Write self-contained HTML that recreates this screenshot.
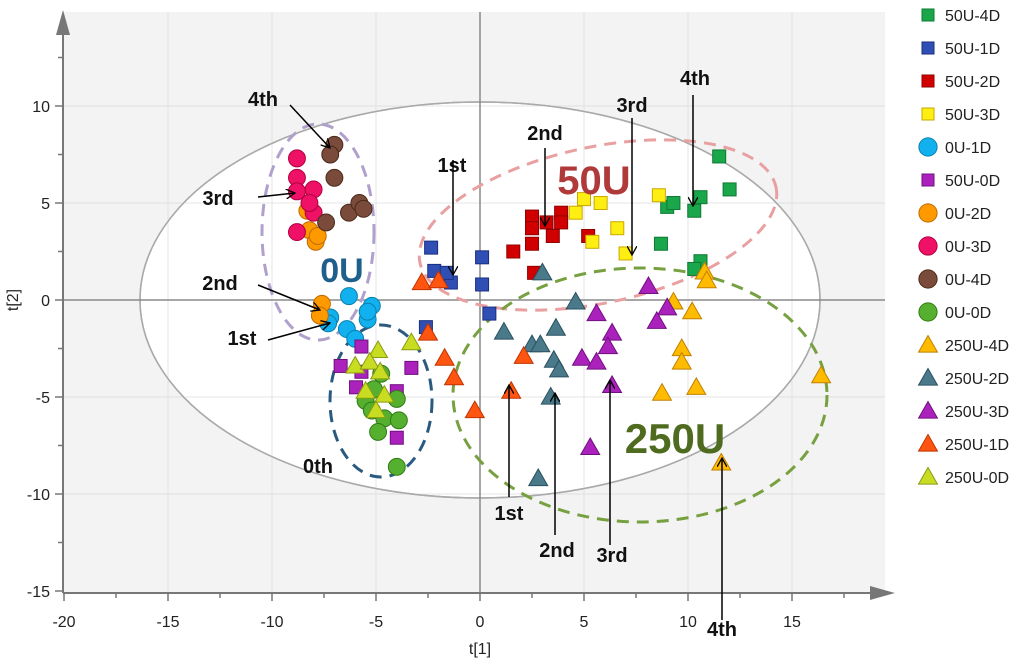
<!DOCTYPE html>
<html><head><meta charset="utf-8"><style>
body{margin:0;background:#fff;}
svg{display:block;font-family:"Liberation Sans",sans-serif;}
</style></head><body>
<svg id="chart" width="1024" height="663" viewBox="0 0 1024 663" xmlns="http://www.w3.org/2000/svg">
<defs>
<marker id="ah" markerWidth="10" markerHeight="10" refX="9" refY="5" orient="auto" markerUnits="userSpaceOnUse"><path d="M0,0 L9,5 L0,10" fill="none" stroke="#000" stroke-width="1.3"/></marker>
</defs>
<g id="bg"></g>
<g id="marks"></g>
<g id="anno"></g>
<g id="legend"></g>
</svg>
<script>
const xTicks=[-20,-15,-10,-5,0,5,10,15];
const yTicks=[-15,-10,-5,0,5,10];
const seriesNames=["50U-4D","50U-1D","50U-2D","50U-3D","0U-1D","50U-0D","0U-2D","0U-3D","0U-4D","0U-0D","250U-4D","250U-2D","250U-3D","250U-1D","250U-0D"];
const s50U4Dx=[11.5,12.0,10.6,10.3,9.0,9.3,8.7,10.6,10.3];
const s50U4Dy=[7.4,5.7,5.3,4.6,4.8,5.0,2.9,2.0,1.6];
const s50U1Dx=[-2.35,-2.2,-1.4,0.1,0.1,0.45,-2.6,-1.6];
const s50U1Dy=[2.7,1.5,0.9,2.2,0.8,-0.7,-1.4,1.4];
const s50U2Dx=[1.6,2.5,2.5,2.5,3.2,3.5,3.9,3.9,5.2,2.6];
const s50U2Dy=[2.5,4.3,3.7,2.9,4.0,3.3,4.5,4.0,3.3,1.4];
const s50U3Dx=[4.6,5.0,5.8,5.4,6.6,7.0,8.6];
const s50U3Dy=[4.5,5.2,5.0,3.0,3.7,2.4,5.4];
const s0U1Dx=[-6.3,-5.2,-5.4,-7.2,-6.4,-6.0,-7.3,-5.4];
const s0U1Dy=[0.2,-0.3,-1.0,-0.9,-1.5,-2.0,-1.2,-0.6];
const s50U0Dx=[-5.7,-6.7,-5.7,-5.96,-3.3,-4.0,-4.0];
const s50U0Dy=[-2.4,-3.4,-3.7,-4.5,-3.5,-4.7,-7.1];
const s0U2Dx=[-8.3,-8.2,-7.9,-7.8,-7.6,-7.7];
const s0U2Dy=[4.6,3.6,3.0,3.3,-0.2,-0.8];
const s0U3Dx=[-8.8,-8.8,-8.8,-8.0,-8.0,-8.8,-8.2];
const s0U3Dy=[7.3,6.3,5.6,5.7,4.5,3.5,5.0];
const s0U4Dx=[-7.0,-7.2,-7.0,-6.3,-5.8,-5.6,-7.4];
const s0U4Dy=[8.0,7.5,6.3,4.5,5.0,4.7,4.0];
const s0U0Dx=[-4.75,-5.1,-5.5,-4.0,-5.2,-4.6,-3.9,-4.9,-4.0];
const s0U0Dy=[-3.8,-4.6,-5.2,-5.1,-5.7,-6.1,-6.2,-6.8,-8.6];
const s250U4Dx=[10.8,10.9,9.3,10.2,9.7,9.7,8.75,10.4,16.4,11.6];
const s250U4Dy=[1.45,1.0,-0.1,-0.6,-2.5,-3.2,-4.8,-4.5,-3.9,-8.4];
const s250U2Dx=[3.0,4.6,1.15,2.5,2.9,3.65,3.55,3.8,3.4,2.8];
const s250U2Dy=[1.4,-0.1,-1.65,-2.3,-2.3,-1.45,-3.1,-3.6,-5.0,-9.2];
const s250U3Dx=[5.6,6.35,6.15,4.9,5.6,6.35,5.3,8.1,9.0,8.5];
const s250U3Dy=[-0.7,-1.7,-2.4,-3.0,-3.2,-4.4,-7.6,0.7,-0.4,-1.1];
const s250U1Dx=[-2.8,-2.0,-2.5,-1.7,-1.25,-0.25,2.1,1.5];
const s250U1Dy=[0.9,1.0,-1.7,-3.0,-4.0,-5.7,-2.9,-4.7];
const s250U0Dx=[-3.3,-6.0,-4.9,-5.3,-4.8,-5.5,-4.6,-5.0];
const s250U0Dy=[-2.2,-3.4,-2.6,-3.2,-3.7,-4.7,-4.9,-5.7];

const SX=[s50U4Dx,s50U1Dx,s50U2Dx,s50U3Dx,s0U1Dx,s50U0Dx,s0U2Dx,s0U3Dx,s0U4Dx,s0U0Dx,s250U4Dx,s250U2Dx,s250U3Dx,s250U1Dx,s250U0Dx];
const SY=[s50U4Dy,s50U1Dy,s50U2Dy,s50U3Dy,s0U1Dy,s50U0Dy,s0U2Dy,s0U3Dy,s0U4Dy,s0U0Dy,s250U4Dy,s250U2Dy,s250U3Dy,s250U1Dy,s250U0Dy];
const shapes=["s","s","s","s","c","s","c","c","c","c","t","t","t","t","t"];
const fills=["#1aa64a","#2f4fb5","#d00000","#ffee11","#11b0ee","#aa22bb","#ff9900","#ee1166","#7a4a3a","#55b030","#ffbb00","#4a7a8a","#aa22bb","#ff5511","#c8dd22"];
const strokes=["#0e7a32","#1a2f80","#900000","#c8a800","#0a80b0","#701080","#c06a00","#b00040","#4a2a1a","#2f7a15","#c08000","#2a5060","#701080","#c03300","#8a9a10"];

const NS="http://www.w3.org/2000/svg";
const X=v=>480+v*20.8, Y=v=>300-v*19.4;
function mk(tag,attrs,parent){const e=document.createElementNS(NS,tag);for(const k in attrs)e.setAttribute(k,attrs[k]);parent.appendChild(e);return e;}
const bg=document.getElementById('bg'),marks=document.getElementById('marks'),anno=document.getElementById('anno'),leg=document.getElementById('legend');

let r=mk('rect',{x:63,y:12,width:822,height:581,fill:'#f3f3f3'},bg);


xTicks.forEach(t=>{if(t===-20||t===0)return;const l=mk('line',{x1:X(t),x2:X(t),y1:12,y2:593,stroke:'#d6d6d6','stroke-width':1.2},bg);

});
yTicks.forEach(t=>{if(t===-15||t===0)return;const l=mk('line',{x1:63,x2:885,y1:Y(t),y2:Y(t),stroke:'#d6d6d6','stroke-width':1.2},bg);

});
let ell=mk('ellipse',{cx:480,cy:300,rx:340,ry:198,fill:'#fff',stroke:'#aaa','stroke-width':1.5},bg);


// inner gridlines visible faintly inside ellipse
xTicks.forEach(t=>{if(t===-20||t===0)return;const l=mk('line',{x1:X(t),x2:X(t),y1:12,y2:593,stroke:'#e6e6e6','stroke-width':1},bg);

});
yTicks.forEach(t=>{if(t===-15||t===0)return;const l=mk('line',{x1:63,x2:885,y1:Y(t),y2:Y(t),stroke:'#e6e6e6','stroke-width':1},bg);

});
let e2=mk('ellipse',{cx:480,cy:300,rx:340,ry:198,fill:'none',stroke:'#aaa','stroke-width':1.5},bg);


let z1=mk('line',{x1:63,x2:885,y1:Y(0),y2:Y(0),stroke:'#8a8a8a','stroke-width':1.5},bg);


let z2=mk('line',{x1:X(0),x2:X(0),y1:12,y2:593,stroke:'#8a8a8a','stroke-width':1.5},bg);


// axes
let ya=mk('line',{x1:63,x2:63,y1:30,y2:593,stroke:'#777','stroke-width':2},bg);


let yar=mk('path',{d:'M56,35 L63,10 L70,35 Z',fill:'#777'},bg);


let xa=mk('line',{x1:63,x2:875,y1:593,y2:593,stroke:'#777','stroke-width':2},bg);


let xar=mk('path',{d:'M870,586 L895,593 L870,600 Z',fill:'#777'},bg);


for(let v=-20;v<=17.5;v+=2.5){const t=mk('line',{x1:X(v),x2:X(v),y1:593,y2:v%5===0?601:598,stroke:'#777','stroke-width':1.5},bg);

}
for(let v=-15;v<=12.5;v+=2.5){const t=mk('line',{x1:v%5===0?55:58,x2:63,y1:Y(v),y2:Y(v),stroke:'#777','stroke-width':1.5},bg);

}
xTicks.forEach(t=>{const e=mk('text',{x:X(t),y:627,'text-anchor':'middle','font-size':16,fill:'#222'},bg);e.textContent=t;

});
yTicks.forEach(t=>{const e=mk('text',{x:50,y:Y(t)+6,'text-anchor':'end','font-size':16,fill:'#222'},bg);e.textContent=t;

});
let xt=mk('text',{x:480,y:654,'text-anchor':'middle','font-size':16,fill:'#222'},bg);xt.textContent='t[1]';


let yt=mk('text',{x:18,y:300,'text-anchor':'middle','font-size':16,fill:'#222',transform:'rotate(-90 18 300)'},bg);yt.textContent='t[2]';



// group dashed ellipses
[[318,232,56,108,0,'#b0a0cc','ellipse-0u-group'],[598,225,182,78,-12,'#e8a0a0','ellipse-50u-group'],[640,395,187,127,0,'#77a040','ellipse-250u-group'],[381,401,51,76,0,'#2a5a80','ellipse-0th-group']].forEach(a=>{
const e=mk('ellipse',{cx:a[0],cy:a[1],rx:a[2],ry:a[3],fill:'none',stroke:a[5],'stroke-width':3,'stroke-dasharray':'12 8',transform:`rotate(${a[4]} ${a[0]} ${a[1]})`},bg);

});

function marker(sh,cx,cy,f,s,p,sz){
 if(sh==='s')return mk('rect',{x:cx-sz,y:cy-sz,width:2*sz,height:2*sz,fill:f,stroke:s,'stroke-width':1},p);
 if(sh==='c')return mk('circle',{cx:cx,cy:cy,r:sz*1.3,fill:f,stroke:s,'stroke-width':1},p);
 const h=sz*1.35;return mk('path',{d:`M${cx},${cy-h} L${cx+h},${cy+h*0.75} L${cx-h},${cy+h*0.75} Z`,fill:f,stroke:s,'stroke-width':1},p);
}
SX.forEach((xs,i)=>{xs.forEach((xv,j)=>{const m=marker(shapes[i],X(xv),Y(SY[i][j]),fills[i],strokes[i],marks,shapes[i]==='t'?7:6.5);

});});

// annotations
const labels=[["4th",263,106],["3rd",218,205],["2nd",220,290],["1st",242,345],["0th",318,473],["1st",452,172],["2nd",545,140],["3rd",632,112],["4th",695,85],["1st",509,520],["2nd",557,557],["3rd",612,562],["4th",722,636]];
labels.forEach(l=>{const e=mk('text',{x:l[1],y:l[2],'text-anchor':'middle','font-size':20,'font-weight':'bold',fill:'#111'},anno);e.textContent=l[0];

});
const arrows=[[290,105,330,148],[258,197,295,193],[258,285,320,310],[268,340,330,323],[453,160,453,275],[545,148,545,226],[632,118,632,255],[693,95,693,206],[509,497,509,385],[555,535,555,393],[610,545,610,380],[722,620,722,458]];
arrows.forEach(a=>{const e=mk('line',{x1:a[0],y1:a[1],x2:a[2],y2:a[3],stroke:'#000','stroke-width':1.5,'marker-end':'url(#ah)'},anno);

});
[["0U",342,282,34,'#1f5f8b'],["50U",594,194,40,'#b03a3a'],["250U",675,453,42,'#4e6b1f']].forEach(g=>{const e=mk('text',{x:g[1],y:g[2],'text-anchor':'middle','font-size':g[3],'font-weight':'bold',fill:g[4]},anno);e.textContent=g[0];

});

// legend
seriesNames.forEach((n,i)=>{const y=15+i*33;
const g=mk('g',{},leg);


marker(shapes[i],928,y,fills[i],strokes[i],g,shapes[i]==='c'?7:shapes[i]==='t'?7:6);
const t=mk('text',{x:945,y:y+6,'font-size':16,fill:'#222'},g);t.textContent=n;});
</script>
</body></html>
